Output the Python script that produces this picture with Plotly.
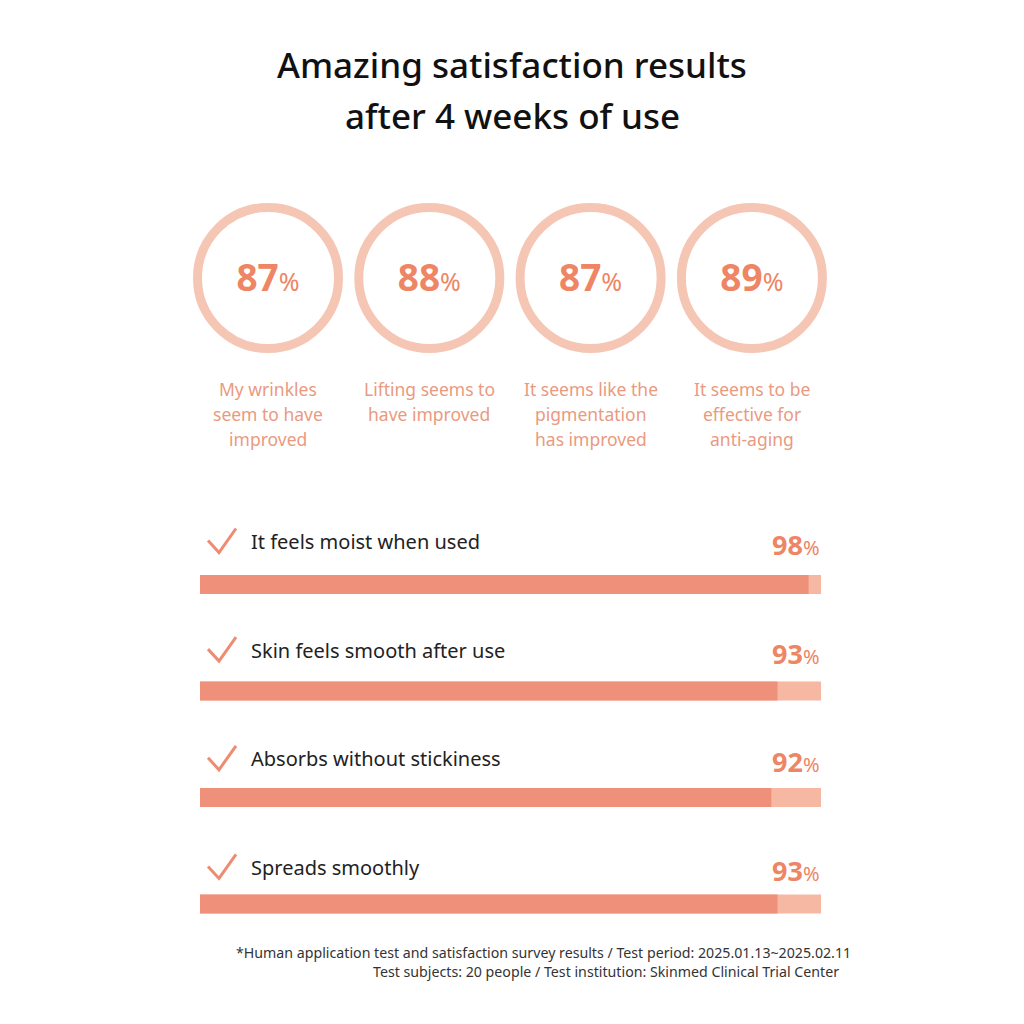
import plotly.graph_objects as go

# circle stats
circle_values = [87, 88, 87, 89]
circle_labels = [
    "My wrinkles<br>seem to have<br>improved",
    "Lifting seems to<br>have improved",
    "It seems like the<br>pigmentation<br>has improved",
    "It seems to be<br>effective for<br>anti-aging",
]

# bar stats
bar_labels = [
    "It feels moist when used",
    "Skin feels smooth after use",
    "Absorbs without stickiness",
    "Spreads smoothly",
]
bar_values = [98, 93, 92, 93]

title_lines = ["Amazing satisfaction results", "after 4 weeks of use"]
footnote_lines = [
    "*Human application test and satisfaction survey results / Test period: 2025.01.13~2025.02.11",
    "Test subjects: 20 people / Test institution: Skinmed Clinical Trial Center",
]

RING = "#F6C6B5"
PCT = "#EE8564"
LABEL = "#EA9A80"
BAR_FILL = "#EF917A"
BAR_BG = "#F6B7A3"
CHECK = "#EE8C72"

W = H = 1024
OFF = 8  # page body margin
fig = go.Figure()

# --- circles ---
cx0, cdx, cy = 268, 161.3, 278
cxs = [cx0 + i * cdx for i in range(len(circle_values))]
fig.add_trace(go.Scatter(
    x=cxs, y=[cy] * len(cxs), mode="markers",
    marker=dict(symbol="circle-open", size=141, color=RING, line=dict(width=9)),
    hoverinfo="skip", showlegend=False,
))
fig.add_trace(go.Scatter(
    x=cxs, y=[cy + 4] * len(cxs), mode="text",
    text=[f"<b>{v}</b><span style='font-size:25px'>%</span>" for v in circle_values],
    textposition="middle center",
    textfont=dict(family="Noto Sans", size=37, color=PCT),
    hoverinfo="skip", showlegend=False,
))
for x, lab in zip(cxs, circle_labels):
    for k, line in enumerate(lab.split("<br>")):
        fig.add_annotation(x=x, y=389 + k * 25, text=line, showarrow=False,
                           font=dict(family="Noto Sans", size=17.5, color=LABEL))

# --- bars ---
bar_left, bar_len = 200, 621
bar_y0, bar_dy = 584.5, 106.5
bys = [bar_y0 + i * bar_dy for i in range(len(bar_values))]
fig.add_trace(go.Bar(
    y=bys, x=[bar_len] * len(bys), base=bar_left, orientation="h", width=19,
    marker=dict(color=BAR_BG, line=dict(width=0)), hoverinfo="skip", showlegend=False,
))
fig.add_trace(go.Bar(
    y=bys, x=[v / 100 * bar_len for v in bar_values], base=bar_left, orientation="h", width=19,
    marker=dict(color=BAR_FILL, line=dict(width=0)), hoverinfo="skip", showlegend=False,
))

# check icon shape (relative to row label)
check_dx = [-42, -31, -14]
check_dy = [-1, 11, -13]
for by, lab, v in zip(bys, bar_labels, bar_values):
    ty = by - 43 + (by - bar_y0) * 0.02
    fig.add_trace(go.Scatter(
        x=[250 + d for d in check_dx], y=[ty + d for d in check_dy], mode="lines",
        line=dict(color=CHECK, width=3), hoverinfo="skip", showlegend=False,
    ))
    fig.add_annotation(x=249, y=ty, text=lab, showarrow=False, xanchor="left",
                       font=dict(family="Noto Sans", size=20, color="#222222"))
    fig.add_annotation(x=bar_left + bar_len + 1, y=ty + 3, xanchor="right",
                       text=f"<b>{v}</b><span style='font-size:20px'>%</span>", showarrow=False,
                       font=dict(family="Noto Sans", size=27, color=PCT))

# --- title and footnote ---
for k, line in enumerate(title_lines):
    fig.add_annotation(x=512, y=64 + k * 51, text=line, showarrow=False,
                       font=dict(family="Noto Sans", size=35, color="#111111", weight=500))
for k, line in enumerate(footnote_lines):
    fig.add_annotation(x=853 - k * 12, y=952 + k * 19, text=line, showarrow=False,
                       xanchor="right", font=dict(family="Noto Sans", size=14.2, color="#333333"))

fig.update_layout(
    width=W, height=H, margin=dict(l=0, r=0, t=0, b=0),
    paper_bgcolor="white", plot_bgcolor="white", barmode="overlay",
    xaxis=dict(range=[OFF, W + OFF], visible=False, fixedrange=True),
    yaxis=dict(range=[H + OFF, OFF], visible=False, fixedrange=True),
)
fig.write_html("out.html")
